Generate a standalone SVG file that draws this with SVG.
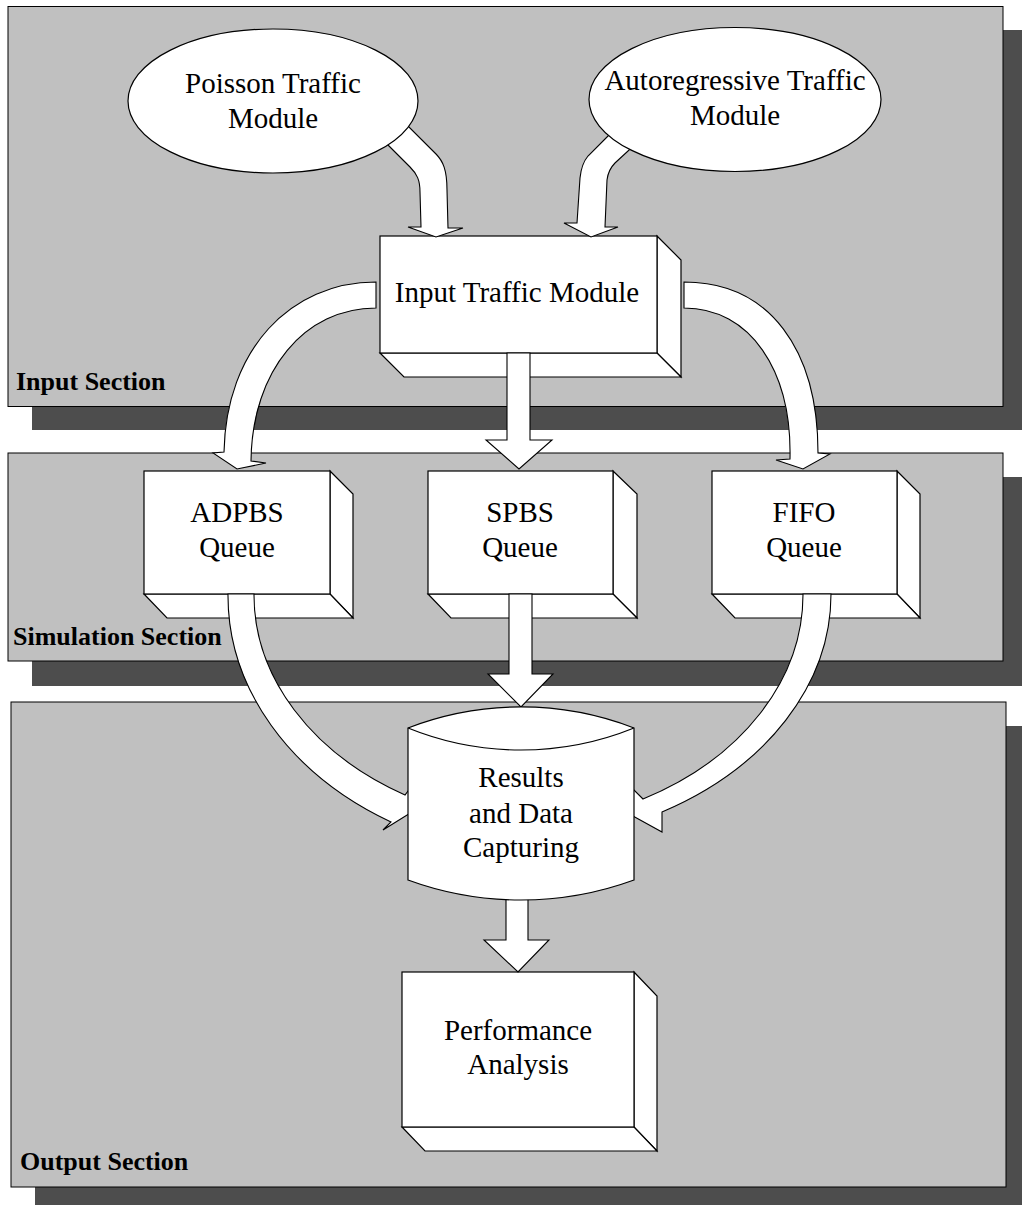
<svg xmlns="http://www.w3.org/2000/svg" width="1022" height="1205" viewBox="0 0 1022 1205">
  <style>
    .panel { fill: #c0c0c0; stroke: #000; stroke-width: 1; }
    .shadow { fill: #4d4d4d; }
    .shape { fill: #fff; stroke: #000; stroke-width: 1.2; stroke-linejoin: miter; }
    .flow { fill: #fff; stroke: #000; stroke-width: 1.1; stroke-linejoin: miter; }
    .label { font-family: "Liberation Serif", "Times New Roman", serif; font-size: 29px; fill: #000; text-anchor: middle; }
    .section { font-family: "Liberation Serif", "Times New Roman", serif; font-size: 26px; font-weight: bold; fill: #000; }
  </style>

  <!-- Section panels with drop shadows -->
  <g id="input-section">
    <rect class="shadow" x="32" y="30" width="995" height="400"/>
    <rect class="panel" x="8" y="6.5" width="995" height="400"/>
    <text class="section" x="16" y="390">Input Section</text>
  </g>
  <g id="simulation-section">
    <rect class="shadow" x="32" y="477" width="995" height="209"/>
    <rect class="panel" x="8" y="453" width="995" height="208"/>
    <text class="section" x="13" y="645">Simulation Section</text>
  </g>
  <g id="output-section">
    <rect class="shadow" x="35" y="726" width="995" height="490"/>
    <rect class="panel" x="11" y="702" width="995" height="485"/>
    <text class="section" x="20" y="1170">Output Section</text>
  </g>

  <!-- Box-shaped nodes -->
  <g id="input-traffic-module">
    <path class="shape" d="M657 236 L681 260 L681 377 L657 353 Z"/>
    <path class="shape" d="M380 353 L404 377 L681 377 L657 353 Z"/>
    <rect class="shape" x="380" y="236" width="277" height="117"/>
    <text class="label" x="517" y="302">Input Traffic Module</text>
  </g>
  <g id="adpbs-queue">
    <path class="shape" d="M330 471 L353 494 L353 618 L330 594 Z"/>
    <path class="shape" d="M144 594 L167 618 L353 618 L330 594 Z"/>
    <rect class="shape" x="144" y="471" width="186" height="123"/>
    <text class="label" x="237" y="522">ADPBS</text>
    <text class="label" x="237" y="557">Queue</text>
  </g>
  <g id="spbs-queue">
    <path class="shape" d="M613 471 L637 494 L637 618 L613 594 Z"/>
    <path class="shape" d="M428 594 L451 618 L637 618 L613 594 Z"/>
    <rect class="shape" x="428" y="471" width="185" height="123"/>
    <text class="label" x="520" y="522">SPBS</text>
    <text class="label" x="520" y="557">Queue</text>
  </g>
  <g id="fifo-queue">
    <path class="shape" d="M897 471 L920 494 L920 618 L897 594 Z"/>
    <path class="shape" d="M712 594 L735 618 L920 618 L897 594 Z"/>
    <rect class="shape" x="712" y="471" width="185" height="123"/>
    <text class="label" x="804" y="522">FIFO</text>
    <text class="label" x="804" y="557">Queue</text>
  </g>
  <g id="performance-analysis">
    <path class="shape" d="M634 972 L657 996 L657 1151 L634 1127 Z"/>
    <path class="shape" d="M402 1127 L425 1151 L657 1151 L634 1127 Z"/>
    <rect class="shape" x="402" y="972" width="232" height="155"/>
    <text class="label" x="518" y="1040">Performance</text>
    <text class="label" x="518" y="1074">Analysis</text>
  </g>

  <!-- Block arrows between nodes -->
  <g id="connectors">
    <!-- Poisson -> Input -->
    <path class="flow" d="M383 140 L410 167 C417 174 420 180 420 192 L421 227 L408 227 L436 237 L463 228 L448 228 L447 190 C447 170 443 161 436 154 L405 123 Z"/>
    <!-- Autoregressive -> Input -->
    <path class="flow" d="M612 132 L588 156 C583 162 581 168 580 178 L577 223 L564 223 L591 237 L618 227 L605 227 L607 180 C608 172 610 168 615 163 L640 140 Z"/>
    <!-- Input -> ADPBS -->
    <path class="flow" d="M376 282 C290 282 226 350 224 452 L213 453 L237 469 L266 463 L251 461 C252 370 305 308 376 308 Z"/>
    <!-- Input -> SPBS -->
    <path class="flow" d="M507 353 L507 440 L486 440 L519 469 L552 440 L530 440 L530 353 Z"/>
    <!-- Input -> FIFO -->
    <path class="flow" d="M684 282 C770 282 818 350 818 453 L830 454 L803 469 L776 460 L790 459 C792 370 750 308 684 308 Z"/>
    <!-- ADPBS -> Results -->
    <path class="flow" d="M254 594 L228 594 A332 263 0 0 0 391 822 L383 830 L420 807 L414 783 L405 795 A306 232 0 0 1 254 594 Z"/>
    <!-- SPBS -> Results -->
    <path class="flow" d="M509 594 L509 674 L488 674 L521 707 L553 674 L532 674 L532 594 Z"/>
    <!-- FIFO -> Results -->
    <path class="flow" d="M803 594 L831 594 A331 250 0 0 1 662 812 L662 832 L622 810 L630 786 L643 799 A303 232 0 0 0 803 594 Z"/>
    <!-- Results -> Performance -->
    <path class="flow" d="M506 890 L506 940 L484 940 L518 972 L549 940 L528 940 L528 890 Z"/>
  </g>

  <!-- Oval source nodes -->
  <g id="poisson-traffic-module">
    <ellipse class="shape" cx="273" cy="101" rx="145" ry="72"/>
    <text class="label" x="273" y="93">Poisson Traffic</text>
    <text class="label" x="273" y="128">Module</text>
  </g>
  <g id="autoregressive-traffic-module">
    <ellipse class="shape" cx="735" cy="99.5" rx="146" ry="72"/>
    <text class="label" x="735" y="90">Autoregressive Traffic</text>
    <text class="label" x="735" y="125">Module</text>
  </g>

  <!-- Stored-data node -->
  <g id="results-and-data-capturing">
    <path class="shape" d="M408 728 A314 314 0 0 1 634 728 L634 880 A329 329 0 0 1 408 880 Z"/>
    <path class="shape" fill="none" d="M408 728 A301 301 0 0 0 634 728"/>
    <text class="label" x="521" y="787">Results</text>
    <text class="label" x="521" y="823">and Data</text>
    <text class="label" x="521" y="857">Capturing</text>
  </g>
</svg>
